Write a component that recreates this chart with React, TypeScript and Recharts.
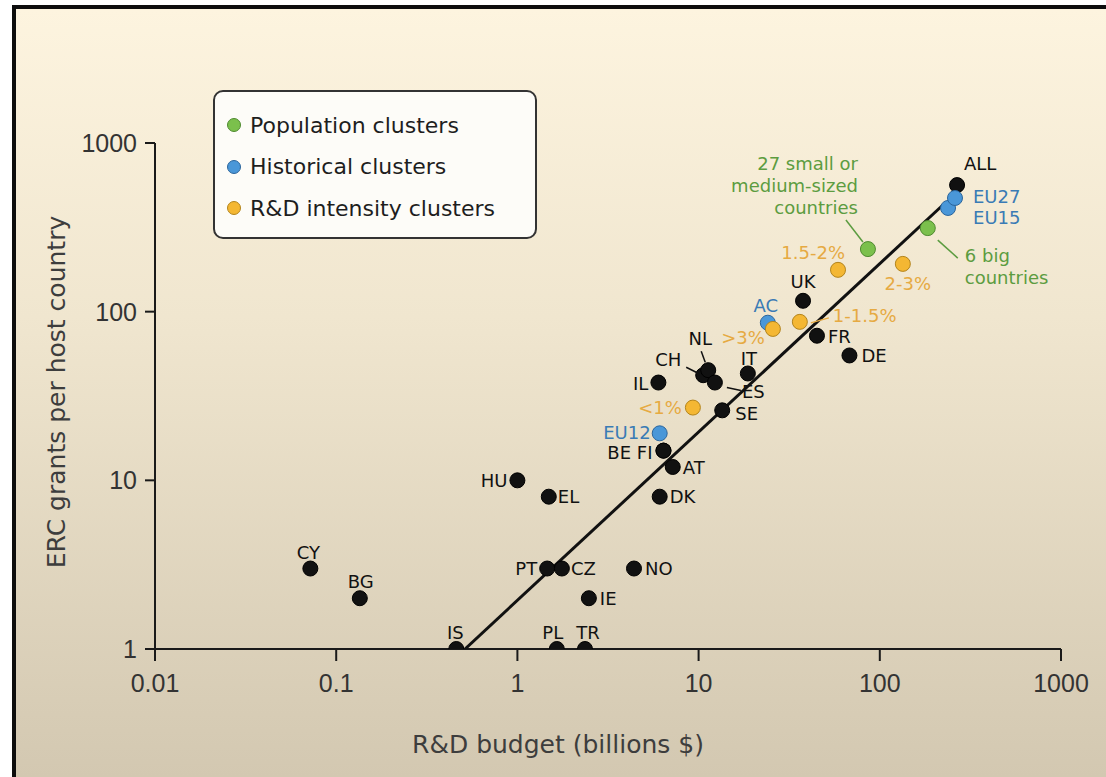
import React from "react";
import { Scatter, ScatterChart, XAxis, YAxis } from "recharts";

// ---- data ----
const countryNames = ["CY", "BG", "IS", "PL", "TR", "PT", "CZ", "IE", "NO", "HU", "EL", "DK", "AT", "BE", "FI", "SE", "IL", "CH", "NL", "ES", "IT", "UK", "FR", "DE", "ALL"];
const countryBudget = [0.072, 0.135, 0.46, 1.65, 2.36, 1.46, 1.76, 2.48, 4.4, 1.0, 1.49, 6.1, 7.2, 6.4, 6.4, 13.5, 6.0, 10.6, 11.3, 12.3, 18.7, 37.7, 45, 68, 267];
const countryGrants = [3, 2, 1, 1, 1, 3, 3, 2, 3, 10, 8, 8, 12, 15, 15, 26, 38, 42, 45, 38, 43, 116, 72, 55, 563];

const populationNames = ["27 small", "6 big"];
const populationBudget = [86, 184];
const populationGrants = [235, 313];

const historicalNames = ["EU12", "AC", "EU15", "EU27"];
const historicalBudget = [6.1, 24.1, 238, 260];
const historicalGrants = [19, 86, 412, 472];

const intensityNames = ["<1%", ">3%", "1-1.5%", "1.5-2%", "2-3%"];
const intensityBudget = [9.3, 25.7, 36.2, 58.8, 134];
const intensityGrants = [27, 79, 87, 177, 192];

const fitBudget = [0.514, 223];
const fitGrants = [1, 429];

const xTicks = [0.01, 0.1, 1, 10, 100, 1000];
const yTicks = [1, 10, 100, 1000];

const legendItems = [
  { label: "Population clusters", color: "#7bc04c", stroke: "#4f8a30" },
  { label: "Historical clusters", color: "#4a97d8", stroke: "#2b659c" },
  { label: "R&D intensity clusters", color: "#f4b733", stroke: "#b3841c" },
];

// label placement relative to the point (pixels)
type LabelSpec = {
  text?: string[];
  dx: number;
  dy: number;
  anchor?: "start" | "middle" | "end";
  leader?: [number, number, number, number];
};

const labelLayout: Record<string, LabelSpec | null> = {
  CY: { dx: -2, dy: -16, anchor: "middle" },
  BG: { dx: 1, dy: -17, anchor: "middle" },
  IS: { dx: -1, dy: -17, anchor: "middle" },
  PL: { dx: -4, dy: -17, anchor: "middle" },
  TR: { dx: 3, dy: -17, anchor: "middle" },
  PT: { dx: -10, dy: 0, anchor: "end" },
  CZ: { dx: 9, dy: 0 },
  IE: { dx: 11, dy: 0 },
  NO: { dx: 11, dy: 0 },
  HU: { dx: -10, dy: 0, anchor: "end" },
  EL: { dx: 9, dy: 0 },
  DK: { dx: 10, dy: 0 },
  AT: { dx: 10, dy: 1 },
  BE: null,
  FI: { text: ["BE FI"], dx: -11, dy: 2, anchor: "end" },
  SE: { dx: 13, dy: 3 },
  IL: { dx: -10, dy: 1, anchor: "end" },
  CH: { dx: -35, dy: -16, anchor: "middle", leader: [-17, -8, -5, -2] },
  NL: { dx: -8, dy: -32, anchor: "middle", leader: [-7, -19, -3, -8] },
  ES: { dx: 27, dy: 9, leader: [12, 5, 26, 8] },
  IT: { dx: 1, dy: -15, anchor: "middle" },
  UK: { dx: 0, dy: -19, anchor: "middle" },
  FR: { dx: 11, dy: 1 },
  DE: { dx: 12, dy: 0 },
  ALL: { dx: 23, dy: -22, anchor: "middle" },
  "27 small": {
    text: ["27 small or", "medium-sized", "countries"],
    dx: -10,
    dy: -86,
    anchor: "end",
    leader: [-22, -29, -5, -7],
  },
  "6 big": { text: ["6 big", "countries"], dx: 37, dy: 27, leader: [10, 12, 30, 30] },
  EU12: { dx: -9, dy: -1, anchor: "end" },
  AC: { dx: -2, dy: -17, anchor: "middle" },
  EU15: { dx: 25, dy: 10 },
  EU27: { dx: 18, dy: -1 },
  "<1%": { dx: -11, dy: 0, anchor: "end" },
  ">3%": { dx: -8, dy: 9, anchor: "end" },
  "1-1.5%": { dx: 33, dy: -6, leader: [11, 1, 29, -4] },
  "1.5-2%": { dx: 7, dy: -17, anchor: "end" },
  "2-3%": { dx: 5, dy: 20, anchor: "middle" },
};

const toPoints = (names: string[], xs: number[], ys: number[]) =>
  names.map((name, i) => ({ name, x: xs[i], y: ys[i] }));

const countries = toPoints(countryNames, countryBudget, countryGrants);
const population = toPoints(populationNames, populationBudget, populationGrants);
const historical = toPoints(historicalNames, historicalBudget, historicalGrants);
const intensity = toPoints(intensityNames, intensityBudget, intensityGrants);
const fitLine = fitBudget.map((x, i) => ({ x, y: fitGrants[i] }));

const LABEL_FONT = "'DejaVu Sans', sans-serif";
const TICK_FONT = "'Liberation Sans', Arial, sans-serif";

function makeDot(fill: string, stroke: string, textColor: string) {
  return (props: any) => {
    const { cx, cy, payload } = props;
    if (cx == null || cy == null) return <g />;
    const spec = labelLayout[payload.name];
    const lines = spec ? spec.text ?? [payload.name] : [];
    return (
      <g>
        <circle cx={cx} cy={cy} r={7.5} fill={fill} stroke={stroke} strokeWidth={1} />
        {spec?.leader && (
          <line
            x1={cx + spec.leader[0]}
            y1={cy + spec.leader[1]}
            x2={cx + spec.leader[2]}
            y2={cy + spec.leader[3]}
            stroke={textColor}
            strokeWidth={1.5}
          />
        )}
        {spec &&
          lines.map((t, i) => (
            <text
              key={i}
              x={cx + spec.dx}
              y={cy + spec.dy + i * 22}
              textAnchor={spec.anchor ?? "start"}
              dominantBaseline="central"
              fontFamily={LABEL_FONT}
              fontSize={18}
              fill={textColor}
            >
              {t}
            </text>
          ))}
      </g>
    );
  };
}

export default function App() {
  return (
    <div style={{ position: "absolute", left: 0, top: 0, width: 1106, height: 777, background: "#fff", overflow: "hidden" }}>
      {/* framed, shaded panel */}
      <div
        style={{
          position: "absolute",
          left: 12,
          top: 5,
          width: 1106 - 12,
          height: 777 - 5,
          boxSizing: "border-box",
          borderLeft: "4px solid #0d0d0d",
          borderTop: "4px solid #0d0d0d",
          background: "linear-gradient(to bottom, #fdf4df 0%, #f0e6cf 40%, #d3c8b1 100%)",
        }}
      />
      <div style={{ position: "absolute", left: 0, top: 0 }}>
        <ScatterChart width={1106} height={777} margin={{ top: 143, right: 45, bottom: 78, left: 15 }}>
          <XAxis
            type="number"
            dataKey="x"
            scale="log"
            domain={[0.01, 1000]}
            allowDataOverflow
            ticks={xTicks}
            height={50}
            tickSize={12}
            tickMargin={13}
            axisLine={{ stroke: "#1a1a1a", strokeWidth: 2 }}
            tickLine={{ stroke: "#1a1a1a", strokeWidth: 2 }}
            tick={{ fill: "#333", fontSize: 25, fontFamily: TICK_FONT }}
            label={() => (
              <text x={558} y={744} textAnchor="middle" dominantBaseline="central" fontFamily={LABEL_FONT} fontSize={25} fill="#3d3d3d">
                R&amp;D budget (billions $)
              </text>
            )}
          />
          <YAxis
            type="number"
            dataKey="y"
            scale="log"
            domain={[1, 1000]}
            allowDataOverflow
            ticks={yTicks}
            width={140}
            tickSize={10}
            tickMargin={8}
            axisLine={{ stroke: "#1a1a1a", strokeWidth: 2 }}
            tickLine={{ stroke: "#1a1a1a", strokeWidth: 2 }}
            tick={{ fill: "#333", fontSize: 25, fontFamily: TICK_FONT }}
            label={() => (
              <text
                x={56}
                y={392}
                transform="rotate(-90 56 392)"
                textAnchor="middle"
                dominantBaseline="central"
                fontFamily={LABEL_FONT}
                fontSize={25}
                fill="#3d3d3d"
              >
                ERC grants per host country
              </text>
            )}
          />
          <Scatter
            data={fitLine}
            line={{ stroke: "#111", strokeWidth: 3 }}
            shape={() => <g />}
            isAnimationActive={false}
          />
          <Scatter data={countries} shape={makeDot("#111", "#000", "#111")} isAnimationActive={false} />
          <Scatter data={historical} shape={makeDot("#4a97d8", "#2b659c", "#3a7bb5")} isAnimationActive={false} />
          <Scatter data={population} shape={makeDot("#7bc04c", "#4f8a30", "#5c9c40")} isAnimationActive={false} />
          <Scatter data={intensity} shape={makeDot("#f4b733", "#b3841c", "#e6aa42")} isAnimationActive={false} />
        </ScatterChart>
      </div>
      {/* legend box */}
      <div
        style={{
          position: "absolute",
          left: 213,
          top: 90,
          width: 324,
          height: 149,
          boxSizing: "border-box",
          border: "2px solid #333",
          borderRadius: 10,
          background: "#fdfcf8",
          fontFamily: LABEL_FONT,
          fontSize: 22,
          color: "#1e1e1e",
        }}
      >
        {legendItems.map((item, i) => (
          <div
            key={item.label}
            style={{ position: "absolute", left: 12, top: 33 + i * 41.5 - 14, height: 28, display: "flex", alignItems: "center" }}
          >
            <span
              style={{
                display: "inline-block",
                width: 12,
                height: 12,
                borderRadius: "50%",
                background: item.color,
                border: `1px solid ${item.stroke}`,
                marginRight: 9,
              }}
            />
            <span>{item.label}</span>
          </div>
        ))}
      </div>
    </div>
  );
}
